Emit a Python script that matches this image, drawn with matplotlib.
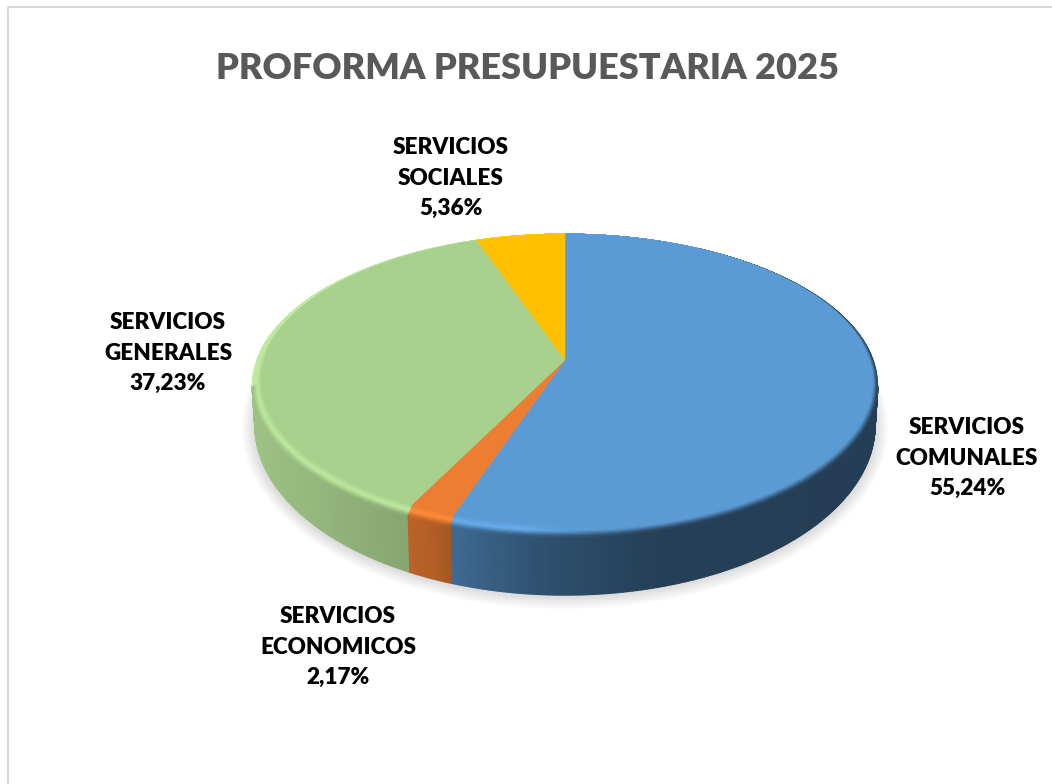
#-*- coding: utf-8 -*-
import numpy as np
import matplotlib
matplotlib.use('Agg')
from matplotlib import pyplot as plt
from matplotlib.collections import PolyCollection
from matplotlib.patches import Ellipse

# datos del grafico
title = 'PROFORMA PRESUPUESTARIA 2025'
categories = ['SERVICIOS\nCOMUNALES', 'SERVICIOS\nECONOMICOS', 'SERVICIOS\nGENERALES', 'SERVICIOS\nSOCIALES']
values = [55.24, 2.17, 37.23, 5.36]
colors = ['#5B9BD5', '#ED7D31', '#A9D18E', '#FFC000']

CX, CY = 565.0, 360.0
K = 0.134
RX, RY = 301.0, 142.9


def to_rgb(c):
    return np.array(matplotlib.colors.to_rgb(c))


# disco en perspectiva: angulo en grados, horario desde las 12
def project(deg):
    t = np.radians(deg)
    u, v = np.sin(t), np.cos(t)
    w = 1 + K * v
    return CX + RX * u / w, CY - RY * v / w


def outer(x, y):
    return CX + (x - CX) * 313 / 304, 385.5 + (y - 379.5) * 151.5 / 145.5


def lower(x):
    xb = CX + (x - CX) * 310 / 313
    return xb, 425 + 170 * np.sqrt(np.clip(1 - ((xb - CX) / 310) ** 2, 0, 1))


def side_shade(x):
    return np.interp(x, [251, 400, 430, 455, 540, 650, 878], [0.93, 0.80, 0.76, 0.68, 0.52, 0.41, 0.40])


def glow(x):
    return np.interp(x, [251, 520, 570, 878], [0.12, 0.12, 0.0, 0.0])


def main():
    fig = plt.figure(figsize=(10.52, 7.84), dpi=100)
    ax = fig.add_axes([0, 0, 1, 1])
    ax.set_xlim(0, 1052)
    ax.set_ylim(784, 0)
    ax.axis('off')

    # marco del area del grafico
    ax.plot([7.5, 7.5, 1052], [784, 6.5, 6.5], color='#D9D9D9', lw=1.5, zorder=1)

    # sombra difusa
    for i in range(14):
        ax.add_patch(Ellipse((CX, 428), 2 * (323 - i * 1.5), 2 * (181 - i * 1.5), color='#808080',
                             alpha=0.03, lw=0, zorder=2))

    edges = np.cumsum([0] + values) / sum(values) * 360
    side_polys, side_cols, rim_polys, rim_cols, top_polys, top_cols = [], [], [], [], [], []
    n_rim = 10
    for i in range(len(values)):
        base = to_rgb(colors[i])
        angles = np.arange(edges[i], edges[i + 1] + 0.25, 0.5)
        angles[-1] = edges[i + 1]
        xs, ys = project(angles)
        top_polys.append(np.column_stack([np.r_[CX, xs], np.r_[CY, ys]]))
        top_cols.append(base)
        xo, yo = outer(xs, ys)
        xb, yb = lower(xo)
        for j in range(len(angles) - 1):
            xm = (xo[j] + xo[j + 1]) / 2
            front = ys[j] > 379.5 and ys[j + 1] > 379.5
            shade = np.clip(base * side_shade(xm), 0, 1)
            if front:
                side_polys.append([(xo[j], yo[j]), (xo[j + 1], yo[j + 1]), (xb[j + 1], yb[j + 1]), (xb[j], yb[j])])
                side_cols.append(shade)
            light = np.clip(base * (1 + glow(xm)), 0, 1)
            # en la parte de atras el borde no se oscurece, salvo a la derecha
            end = shade if front or xm > 700 else light
            for s in range(n_rim):
                s0, s1 = s / n_rim, (s + 1) / n_rim
                a = (s0 + s1) / 2
                if a < 0.5:
                    col = base + (light - base) * a / 0.5
                else:
                    col = light + (end - light) * (a - 0.5) / 0.5
                rim_polys.append([
                    (xs[j] + (xo[j] - xs[j]) * s0, ys[j] + (yo[j] - ys[j]) * s0),
                    (xs[j + 1] + (xo[j + 1] - xs[j + 1]) * s0, ys[j + 1] + (yo[j + 1] - ys[j + 1]) * s0),
                    (xs[j + 1] + (xo[j + 1] - xs[j + 1]) * s1, ys[j + 1] + (yo[j + 1] - ys[j + 1]) * s1),
                    (xs[j] + (xo[j] - xs[j]) * s1, ys[j] + (yo[j] - ys[j]) * s1)])
                rim_cols.append(col)

    ax.add_collection(PolyCollection(side_polys, facecolors=side_cols, edgecolors=side_cols, linewidths=1.0, zorder=3))
    ax.add_collection(PolyCollection(rim_polys, facecolors=rim_cols, edgecolors=rim_cols, linewidths=0.5, zorder=4))
    ax.add_collection(PolyCollection(top_polys, facecolors=top_cols, edgecolors=top_cols, linewidths=0.3, zorder=5))

    ax.text(528, 68, title, fontsize=26.05, fontweight='heavy', family='Lato', color='#595959',
            ha='center', va='center')

    # etiquetas de cada sector
    label_pos = [(967, 458), (338, 647), (168, 353), (451, 178)]
    for name, val, pos in zip(categories, values, label_pos):
        label = name + '\n' + ('%.2f%%' % val).replace('.', ',')
        ax.text(pos[0], pos[1], label, fontsize=16.2, fontweight='heavy', family='Lato', color='black',
                ha='center', va='center', linespacing=1.55, zorder=6)

    fig.savefig('out.png', dpi=100, facecolor='white')


if __name__ == '__main__':
    main()
